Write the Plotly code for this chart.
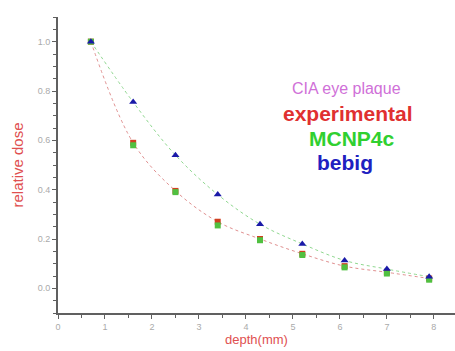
import plotly.graph_objects as go

depth = [0.7, 1.6, 2.5, 3.4, 4.3, 5.2, 6.1, 7.0, 7.9]
experimental = [1.0, 0.59, 0.395, 0.27, 0.20, 0.14, 0.09, 0.065, 0.04]
mcnp4c = [1.0, 0.58, 0.39, 0.255, 0.195, 0.135, 0.085, 0.06, 0.035]
bebig = [1.0, 0.755, 0.54, 0.38, 0.26, 0.18, 0.113, 0.078, 0.047]

x_ticks = [0, 1, 2, 3, 4, 5, 6, 7, 8]
y_ticks = [0.0, 0.2, 0.4, 0.6, 0.8, 1.0]

fig = go.Figure()
fig.add_trace(go.Scatter(x=depth, y=bebig, mode="lines", line=dict(color="#90d890", width=1, dash="dot", shape="spline"), showlegend=False))
fig.add_trace(go.Scatter(x=depth, y=experimental, mode="lines", line=dict(color="#e09090", width=1, dash="dot", shape="spline"), showlegend=False))
fig.add_trace(go.Scatter(x=depth, y=experimental, mode="markers", marker=dict(symbol="square", size=6, color="#d04020"), showlegend=False))
fig.add_trace(go.Scatter(x=depth, y=mcnp4c, mode="markers", marker=dict(symbol="square", size=6, color="#50c040"), showlegend=False))
fig.add_trace(go.Scatter(x=depth, y=bebig, mode="markers", marker=dict(symbol="triangle-up", size=7, color="#1a1aa8"), showlegend=False))

axis_common = dict(showline=True, linecolor="#606060", linewidth=2, showgrid=False, zeroline=False,
                   ticks="outside", tickcolor="#606060", tickwidth=1, ticklen=4,
                   tickfont=dict(family="Arial", size=9, color="#aaaaaa"),
                   minor=dict(ticks="outside", ticklen=3, tickcolor="#606060"))

fig.update_xaxes(range=[0, 8.45], tickvals=x_ticks, ticktext=[str(v) for v in x_ticks],
                 title=dict(text="depth(mm)", font=dict(family="Arial", size=13, color="#e05050"), standoff=4),
                 **axis_common)
fig.update_yaxes(range=[-0.1, 1.1], tickvals=y_ticks, ticktext=[f"{v:.1f}" for v in y_ticks],
                 title=dict(text="relative dose", font=dict(family="Arial", size=15, color="#e05050"), standoff=10),
                 **axis_common)

L, R, T, B = 58, 0, 17, 38
W, H = 455, 351
ann = [
    ("CIA eye plaque", 346, 88, 16, "#d070d8", False),
    ("experimental", 348, 113, 21, "#e03030", True),
    ("MCNP4c", 352, 138, 21, "#30d030", True),
    ("bebig", 345, 162, 21, "#2020c0", True),
]
for text, px, py, size, color, bold in ann:
    fig.add_annotation(x=(px - L) / (W - L - R), y=(H - B - py) / (H - T - B),
                       xref="paper", yref="paper", xanchor="center", yanchor="middle",
                       text=f"<b>{text}</b>" if bold else text, showarrow=False,
                       font=dict(family="Arial", size=size, color=color))

fig.update_layout(width=W, height=H, margin=dict(l=L, r=R, t=T, b=B),
                  plot_bgcolor="white", paper_bgcolor="white")
fig.write_html("out.html")
